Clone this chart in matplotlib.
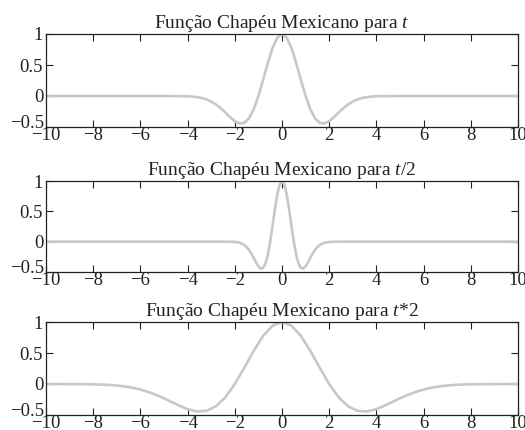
import numpy as np
import matplotlib
matplotlib.use("Agg")
import matplotlib.pyplot as plt

plt.rcParams["font.family"] = ["Liberation Serif", "DejaVu Serif"]
plt.rcParams["mathtext.fontset"] = "custom"
plt.rcParams["mathtext.rm"] = "Liberation Serif"
plt.rcParams["mathtext.it"] = "Liberation Serif:italic"

# Mexican hat samples, right half (t >= 0); the curve is symmetric about t = 0
t_half = [0.0, 0.2, 0.4, 0.6, 0.8, 1.0, 1.2, 1.4, 1.6, 1.8, 2.0, 2.2, 2.4,
          2.6, 2.8, 3.0, 3.2, 3.4, 3.6, 3.8, 4.0, 4.4, 5.0, 10.0, 20.0]
psi_half = [1.0, 0.941, 0.775, 0.535, 0.261, 0.0, -0.214, -0.360, -0.434,
            -0.443, -0.406, -0.341, -0.267, -0.196, -0.136, -0.089, -0.055,
            -0.033, -0.018, -0.010, -0.005, -0.001, 0.0, 0.0, 0.0]

titles = ["Função Chapéu Mexicano para $t$",
          "Função Chapéu Mexicano para $t$/2",
          "Função Chapéu Mexicano para $t$*2"]
x_scales = [1.0, 0.5, 2.0]

x_ticks = [-10, -8, -6, -4, -2, 0, 2, 4, 6, 8, 10]
y_ticks = [-0.5, 0, 0.5, 1]
y_labels = ["\u22120.5", "0", "0.5", "1"]

t_full = np.concatenate([-np.array(t_half[:0:-1]), np.array(t_half)])
psi_full = np.concatenate([np.array(psi_half[:0:-1]), np.array(psi_half)])

fig = plt.figure(figsize=(5.25, 4.3), dpi=100)
left, width = 46 / 525, (518 - 46) / 525
panels = [(34, 127), (181, 272), (322, 415)]
ink = "#222222"
fs_tick = 13.5

for (top_px, bot_px), title, s in zip(panels, titles, x_scales):
    ax = fig.add_axes([left, 1 - bot_px / 430, width, (bot_px - top_px) / 430])
    ax.plot(t_full * s, psi_full, color="#c8c8c8", lw=1.9, solid_capstyle="round")
    ax.set_xlim(-10, 10)
    ax.set_ylim(-0.5, 1)
    ax.set_xticks(x_ticks)
    ax.set_xticklabels([("\u2212" + str(-v)) if v < 0 else str(v) for v in x_ticks])
    ax.set_yticks(y_ticks)
    # the lowest label is drawn separately, lifted a little above its tick
    ax.set_yticklabels([""] + y_labels[1:])
    ax.annotate(y_labels[0], xy=(0, y_ticks[0]), xycoords=("axes fraction", "data"),
                xytext=(-1.5, 2.5), textcoords="offset points",
                ha="right", va="center", fontsize=fs_tick, color=ink)
    ax.tick_params(direction="in", top=True, right=True, length=5, width=0.8,
                   labelsize=fs_tick, colors=ink)
    ax.tick_params(axis="x", pad=0)
    ax.tick_params(axis="y", pad=2)
    for sp in ax.spines.values():
        sp.set_linewidth(0.9)
        sp.set_color(ink)
    ax.set_title(title, fontsize=14, pad=4, color=ink)

fig.savefig("out.png", dpi=100)
